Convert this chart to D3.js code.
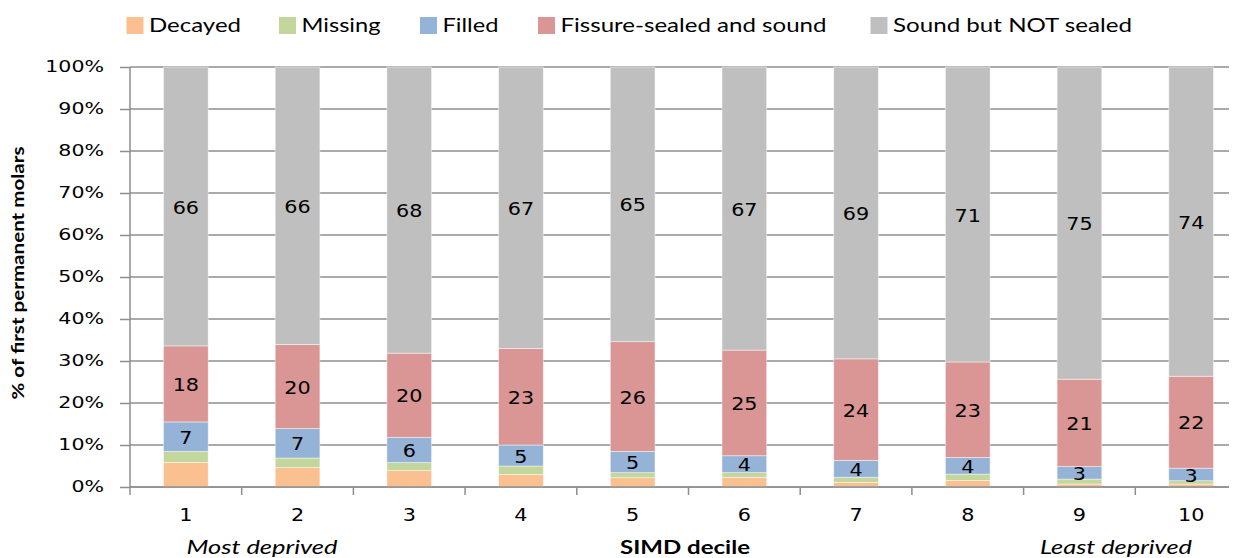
<!DOCTYPE html>
<html>
<head>
<meta charset="utf-8">
<script src="https://cdn.jsdelivr.net/npm/d3@7"></script>
<style>
  html, body { margin: 0; padding: 0; background: #fff; }
  svg { display: block; }
</style>
</head>
<body>
<svg id="chart" width="1239" height="558"></svg>
<script>
// SIMD decile categories
const categories = ["1", "2", "3", "4", "5", "6", "7", "8", "9", "10"];

// Condition of first permanent molars, % by decile
const decayed = [5.8, 4.6, 3.9, 3.0, 2.2, 2.3, 1.1, 1.6, 0.7, 0.7];
const missing = [2.6, 2.3, 1.9, 2.0, 1.2, 1.1, 1.2, 1.5, 1.2, 0.8];
const filled  = [7, 7, 6, 5, 5, 4, 4, 4, 3, 3];
const fissureSealed = [18, 20, 20, 23, 26, 25, 24, 23, 21, 22];
const soundNotSealed = [66, 66, 68, 67, 65, 67, 69, 71, 75, 74];

const seriesNames = ["Decayed", "Missing", "Filled", "Fissure-sealed and sound", "Sound but NOT sealed"];
const seriesValues = [decayed, missing, filled, fissureSealed, soundNotSealed];
const seriesColors = ["#FAC090", "#C3D69B", "#95B3D7", "#D99694", "#BFBFBF"];
const labelledSeries = ["Filled", "Fissure-sealed and sound", "Sound but NOT sealed"];

const yTicks = [0, 0.1, 0.2, 0.3, 0.4, 0.5, 0.6, 0.7, 0.8, 0.9, 1.0];

const rows = categories.map((c, i) => {
  const r = { decile: c };
  seriesNames.forEach((s, k) => { r[s] = seriesValues[k][i]; });
  return r;
});

const svg = d3.select("#chart");

const plot = { left: 130, right: 1247, top: 67, bottom: 487, gridEnd: 1229 };

const x = d3.scaleBand()
  .domain(categories)
  .range([plot.left, plot.right])
  .paddingInner(0.6)
  .paddingOuter(0.3);

const y = d3.scaleLinear().domain([0, 1]).range([plot.bottom, plot.top]);

const color = d3.scaleOrdinal().domain(seriesNames).range(seriesColors);

// widen glyphs horizontally by a factor
function stretch(sel, factor) {
  sel.each(function () {
    const w = this.getComputedTextLength();
    d3.select(this).attr("textLength", w * factor).attr("lengthAdjust", "spacingAndGlyphs");
  });
}
function fitTo(sel, width) {
  sel.attr("textLength", width).attr("lengthAdjust", "spacingAndGlyphs");
}

// horizontal gridlines
svg.append("g")
  .selectAll("line")
  .data(yTicks)
  .join("line")
  .attr("x1", plot.left)
  .attr("x2", plot.gridEnd)
  .attr("y1", d => y(d))
  .attr("y2", d => y(d))
  .attr("stroke", "#8e8e8e")
  .attr("stroke-width", 1.5);

// stacked bars
const stacked = d3.stack().keys(seriesNames).offset(d3.stackOffsetExpand)(rows);

const layers = svg.append("g")
  .selectAll("g")
  .data(stacked)
  .join("g")
  .attr("fill", d => color(d.key));

layers.selectAll("rect")
  .data(d => d)
  .join("rect")
  .attr("x", d => x(d.data.decile))
  .attr("width", x.bandwidth())
  .attr("y", d => y(d[1]))
  .attr("height", d => y(d[0]) - y(d[1]))
  .attr("stroke", "#ffffff")
  .attr("stroke-opacity", 0.55)
  .attr("stroke-width", 0.8);

// value labels
const labelLayers = svg.append("g")
  .selectAll("g")
  .data(stacked.filter(s => labelledSeries.includes(s.key)))
  .join("g");

labelLayers.selectAll("text")
  .data(d => d.map(p => ({ p, key: d.key })))
  .join("text")
  .attr("x", d => x(d.p.data.decile) + x.bandwidth() / 2)
  .attr("y", d => (y(d.p[0]) + y(d.p[1])) / 2 + 1)
  .attr("dy", "0.36em")
  .attr("text-anchor", "middle")
  .attr("font-family", "DejaVu Sans")
  .attr("font-size", 17)
  .attr("fill", "#000")
  .text(d => d.p.data[d.key])
  .call(stretch, 1.22);

// y axis
const yAxis = svg.append("g")
  .attr("transform", `translate(${plot.left},0)`)
  .call(d3.axisLeft(y).tickValues(yTicks).tickFormat(d3.format(".0%")).tickSize(10).tickPadding(16));
yAxis.select(".domain").attr("stroke", "#8e8e8e").attr("stroke-width", 1.5).attr("d", `M0,${plot.top}V${plot.bottom}`);
yAxis.selectAll(".tick line").attr("stroke", "#8e8e8e").attr("stroke-width", 1.5);
yAxis.selectAll(".tick text")
  .attr("font-family", "DejaVu Sans")
  .attr("font-size", 15)
  .attr("fill", "#000")
  .call(stretch, 1.37);

// x axis: labels under bars, ticks at category boundaries
const xAxis = svg.append("g")
  .attr("transform", `translate(0,${plot.bottom})`)
  .call(d3.axisBottom(x).tickSize(0).tickPadding(22));
xAxis.select(".domain").remove();
xAxis.selectAll(".tick text")
  .attr("font-family", "DejaVu Sans")
  .attr("font-size", 17)
  .attr("fill", "#000")
  .call(stretch, 1.22);

svg.append("line")
  .attr("x1", plot.left).attr("x2", plot.gridEnd)
  .attr("y1", plot.bottom).attr("y2", plot.bottom)
  .attr("stroke", "#8e8e8e").attr("stroke-width", 1.5);

const boundaries = categories.map(c => x(c) - x.step() * x.paddingOuter());
svg.append("g")
  .selectAll("line")
  .data(boundaries)
  .join("line")
  .attr("x1", d => d).attr("x2", d => d)
  .attr("y1", plot.bottom).attr("y2", plot.bottom + 8)
  .attr("stroke", "#8e8e8e").attr("stroke-width", 1.5);

// axis titles
svg.append("text")
  .attr("transform", `translate(24,273) rotate(-90)`)
  .attr("text-anchor", "middle")
  .attr("font-family", "Lato")
  .attr("font-weight", "bold")
  .attr("font-size", 17)
  .attr("fill", "#000")
  .text("% of first permanent molars")
  .call(fitTo, 253);

svg.append("text")
  .attr("x", 685).attr("y", 554)
  .attr("text-anchor", "middle")
  .attr("font-family", "Lato")
  .attr("font-weight", "bold")
  .attr("font-size", 19)
  .attr("fill", "#000")
  .text("SIMD decile")
  .call(fitTo, 130);

svg.append("text")
  .attr("x", 262).attr("y", 554)
  .attr("text-anchor", "middle")
  .attr("font-family", "Lato")
  .attr("font-style", "italic")
  .attr("font-size", 19)
  .attr("fill", "#000")
  .text("Most deprived")
  .call(fitTo, 151);

svg.append("text")
  .attr("x", 1116).attr("y", 554)
  .attr("text-anchor", "middle")
  .attr("font-family", "Lato")
  .attr("font-style", "italic")
  .attr("font-size", 19)
  .attr("fill", "#000")
  .text("Least deprived")
  .call(fitTo, 152);

// legend: swatch positions and text widths along the top row
const legendX = [126.5, 279, 420, 538, 870.5];
const legendW = [92, 79, 56, 266, 239];
const legend = svg.append("g");
seriesNames.forEach((name, i) => {
  legend.append("rect")
    .attr("x", legendX[i]).attr("y", 17)
    .attr("width", 17).attr("height", 17)
    .attr("fill", color(name));
  legend.append("text")
    .attr("x", legendX[i] + 22.5).attr("y", 32)
    .attr("font-family", "Lato")
    .attr("font-size", 19)
    .attr("fill", "#000")
    .text(name)
    .call(fitTo, legendW[i]);
});
</script>
</body>
</html>
